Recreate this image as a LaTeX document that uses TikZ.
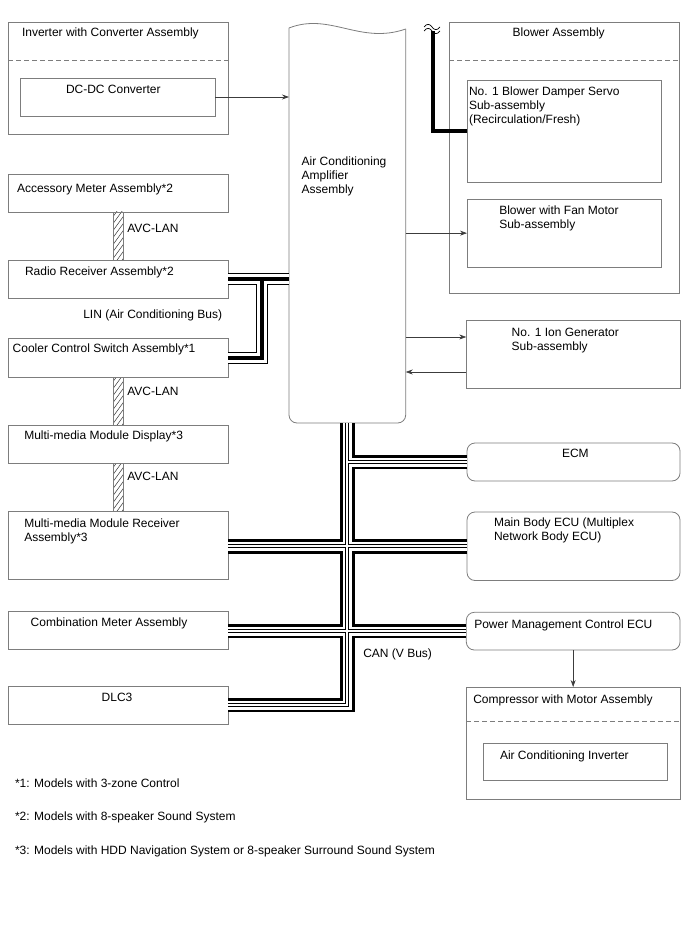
\documentclass[tikz,border=0pt]{standalone}
\usepackage{fontspec}
\setmainfont{Liberation Sans}
\usetikzlibrary{arrows.meta,calc}
\definecolor{boxc}{RGB}{125,125,125}
\definecolor{arrc}{RGB}{60,60,60}
\newcommand\hatchbar[2]{%
  \begin{scope}
    \clip (#1) rectangle (#2);
    \foreach \k in {0,7,...,77} \draw[line width=0.5pt,black!80] ($(#1)+(-2,\k)$) -- ++(16,-22);
  \end{scope}
  \draw[boxc, line width=0.8pt] (#1) rectangle (#2);}
\begin{document}
\begin{tikzpicture}[x=1pt,y=-1pt,
  box/.style={draw=boxc, line width=0.8pt, inner sep=0pt, outer sep=0pt, anchor=north west},
  rbox/.style={box, rounded corners=8pt},
  ghost/.style={inner sep=0pt, outer sep=0pt, anchor=north west},
  txt/.style={anchor=base west, inner sep=0pt, outer sep=0pt, font=\fontsize{12}{14}\selectfont},
  arr/.style={draw=arrc, line width=0.7pt, -{Stealth[length=7pt,width=5pt]}},
  sep/.style={draw=boxc, line width=0.8pt, dash pattern=on 5pt off 3pt}]
\useasboundingbox (0,0) rectangle (688,949);

% ---------- boxes ----------
\node[box, minimum width=220pt, minimum height=112pt] (inv) at (8,22) {};
\node[box, minimum width=195pt, minimum height=38pt] (dcdc) at (20,78) {};
\node[ghost, minimum width=116.7pt, minimum height=400pt] (amp) at (289,23) {};
\node[box, minimum width=229.7pt, minimum height=271pt] (blower) at (449.3,22) {};
\node[box, minimum width=194.5pt, minimum height=102.3pt] (damper) at (467,80) {};
\node[box, minimum width=194.5pt, minimum height=68.3pt] (fan) at (467,199) {};
\node[box, minimum width=213.7pt, minimum height=68pt] (ion) at (466.3,320) {};
\node[box, minimum width=220pt, minimum height=38pt] (acc) at (8,174) {};
\node[box, minimum width=220pt, minimum height=38pt] (radio) at (8,260) {};
\node[box, minimum width=220pt, minimum height=39pt] (cooler) at (8,338) {};
\node[box, minimum width=220pt, minimum height=38pt] (mmd) at (8,425) {};
\node[box, minimum width=220pt, minimum height=68pt] (mmr) at (8,511) {};
\node[box, minimum width=220pt, minimum height=38pt] (comb) at (8,611) {};
\node[box, minimum width=220pt, minimum height=38pt] (dlc) at (8,686) {};
\node[rbox, minimum width=213pt, minimum height=38pt] (ecm) at (467,443) {};
\node[rbox, minimum width=213pt, minimum height=68.5pt] (main) at (467,512) {};
\node[rbox, minimum width=213.7pt, minimum height=37.7pt] (pm) at (466.3,612.3) {};
\node[box, minimum width=213.7pt, minimum height=112pt] (comp) at (466.3,687) {};
\node[box, minimum width=184pt, minimum height=37pt] (acinv) at (483,743) {};

% amplifier outline with wavy top
\draw[boxc, line width=0.8pt, rounded corners=8pt] ($(amp.north west)+(0,5)$) -- (amp.south west) -- (amp.south east) -- ($(amp.north east)+(0,6)$);
\draw[boxc, line width=0.8pt] ($(amp.north west)+(0,5)$) .. controls ($(amp.north west)+(41,-11)$) and ($(amp.north west)+(71,22)$) .. ($(amp.north east)+(0,6)$);

% dashed separators
\draw[sep] (inv.west |- 0,60) -- (inv.east |- 0,60);
\draw[sep] (blower.west |- 0,60) -- (blower.east |- 0,60);
\draw[sep] (comp.west |- 0,721) -- (comp.east |- 0,721);

% ---------- texts ----------
\node[txt] (t-inv) at (22,37) {Inverter with Converter Assembly};
\node[txt] (t-dcdc) at (66,93.5) {DC-DC Converter};
\node[txt] (t-amp1) at (301.7,165.7) {Air Conditioning};
\node[txt] (t-amp2) at (301.7,179.7) {Amplifier};
\node[txt] (t-amp3) at (301.7,193.7) {Assembly};
\node[txt] (t-blw) at (512.7,36.7) {Blower Assembly};
\node[txt] (t-dmp1) at (469,95.7) {No. 1 Blower Damper Servo};
\node[txt] (t-dmp2) at (469,109.7) {Sub-assembly};
\node[txt] (t-dmp3) at (469,123.7) {(Recirculation/Fresh)};
\node[txt] (t-fan1) at (499.3,215) {Blower with Fan Motor};
\node[txt] (t-fan2) at (499.3,229) {Sub-assembly};
\node[txt] (t-ion1) at (511.7,336) {No. 1 Ion Generator};
\node[txt] (t-ion2) at (511.7,350) {Sub-assembly};
\node[txt] (t-acc) at (17,192.3) {Accessory Meter Assembly*2};
\node[txt] (t-avc1) at (127.3,232.7) {AVC-LAN};
\node[txt] (t-radio) at (25,276) {Radio Receiver Assembly*2};
\node[txt] (t-lin) at (83.3,318.3) {LIN (Air Conditioning Bus)};
\node[txt] (t-cool) at (12.7,352.7) {Cooler Control Switch Assembly*1};
\node[txt] (t-avc2) at (127.3,395.7) {AVC-LAN};
\node[txt] (t-mmd) at (24.3,439.3) {Multi-media Module Display*3};
\node[txt] (t-avc3) at (127.3,480) {AVC-LAN};
\node[txt] (t-mmr1) at (24.3,527.7) {Multi-media Module Receiver};
\node[txt] (t-mmr2) at (24.3,541.7) {Assembly*3};
\node[txt] (t-comb) at (30.7,626.7) {Combination Meter Assembly};
\node[txt] (t-dlc) at (101.7,701.7) {DLC3};
\node[txt] (t-ecm) at (562,457.5) {ECM};
\node[txt] (t-main1) at (494,526.5) {Main Body ECU (Multiplex};
\node[txt] (t-main2) at (494,540.5) {Network Body ECU)};
\node[txt] (t-pm) at (474.3,628.3) {Power Management Control ECU};
\node[txt] (t-comp) at (473.3,703.3) {Compressor with Motor Assembly};
\node[txt] (t-acinv) at (500,759.3) {Air Conditioning Inverter};
\node[txt] (t-can) at (363.3,657.3) {CAN (V Bus)};
\node[txt] (fn1) at (15,787) {*1: Models with 3-zone Control};
\node[txt] (fn2) at (15,820.5) {*2: Models with 8-speaker Sound System};
\node[txt] (fn3) at (15,854) {*3: Models with HDD Navigation System or 8-speaker Surround Sound System};

% ---------- thin arrows ----------
\draw[arr] (dcdc.east) -- (dcdc.east -| amp.west);
\draw[arr] (fan.west -| amp.east) -- (fan.west);
\coordinate (ionA) at ([yshift=17pt]ion.west);
\coordinate (ionB) at ([yshift=-18pt]ion.west);
\draw[arr] (ionA -| amp.east) -- (ionA);
\draw[arr] (ionB) -- (ionB -| amp.east);
\draw[arr] (pm.south) -- (comp.north);

% ---------- wire to damper servo ----------
\coordinate (wtop) at (432.5,31);
\draw[line width=4pt] (wtop) -- (wtop |- damper.west) -- (damper.west);
\draw[line width=0.7pt] (424,27) .. controls (427,23) and (430,24) .. (432,27) .. controls (434,30) and (437,31) .. (440,27);
\draw[line width=0.7pt] (424,31) .. controls (427,27) and (430,28) .. (432,31) .. controls (434,34) and (437,35) .. (440,31);

% ---------- AVC-LAN hatched links ----------
\coordinate (a1) at ($(acc.south west)+(105.3,0)$);
\coordinate (b1) at ($(radio.north west)+(115.3,0)$);
\coordinate (a2) at ($(cooler.south west)+(105.3,0)$);
\coordinate (b2) at ($(mmd.north west)+(115.3,0)$);
\coordinate (a3) at ($(mmd.south west)+(105.3,0)$);
\coordinate (b3) at ($(mmr.north west)+(115.3,0)$);
\hatchbar{a1}{b1}
\hatchbar{a2}{b2}
\hatchbar{a3}{b3}

% ---------- LIN bus ----------
\coordinate (linj) at ($(radio.east)+(33.7,0)$);
\foreach \w/\c in {12/black,10/white,4/black}
  \draw[line width=\w pt, \c] (radio.east) -- (radio.east -| amp.west)
        (linj) -- (linj |- cooler.east) -- (cooler.east);

% ---------- CAN bus ----------
\foreach \w/\c in {14.5/black,9/white,3.8/black,1.8/white}
  \draw[line width=\w pt, \c] (amp.south) -- (amp.south |- dlc.east) -- (dlc.east)
        (amp.south |- ecm.west) -- (ecm.west)
        (mmr.east |- main.west) -- (main.west)
        (comb.east |- pm.west) -- (pm.west);

\end{tikzpicture}
\end{document}
